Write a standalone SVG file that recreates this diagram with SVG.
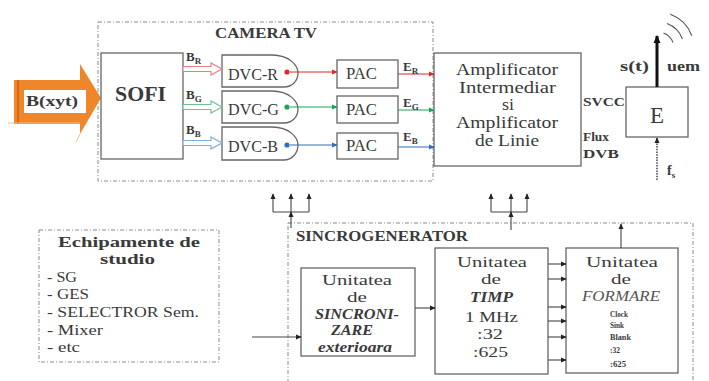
<svg xmlns="http://www.w3.org/2000/svg" width="709" height="381" viewBox="0 0 709 381">
<style>
text{font-family:"Liberation Serif","DejaVu Serif",serif;fill:#3a3a3a}
.b{font-weight:bold}
.bi{font-weight:bold;font-style:italic}
.box{fill:#fff;stroke:#666;stroke-width:1.3}
.dash{fill:none;stroke:#8a8a8a;stroke-width:1;stroke-dasharray:4 2 1 2}
.ln{fill:none;stroke:#444;stroke-width:1.1}
</style>
<defs>
<marker id="ak" viewBox="0 0 8 8" refX="7" refY="4" markerWidth="6" markerHeight="6" orient="auto" markerUnits="userSpaceOnUse"><path d="M0,0.5 L8,4 L0,7.5 Z" fill="#222"/></marker>
<marker id="ar" viewBox="0 0 8 8" refX="7" refY="4" markerWidth="6" markerHeight="6" orient="auto" markerUnits="userSpaceOnUse"><path d="M0,0.5 L8,4 L0,7.5 Z" fill="#e02828"/></marker>
<marker id="ag" viewBox="0 0 8 8" refX="7" refY="4" markerWidth="6" markerHeight="6" orient="auto" markerUnits="userSpaceOnUse"><path d="M0,0.5 L8,4 L0,7.5 Z" fill="#1fa35a"/></marker>
<marker id="ab" viewBox="0 0 8 8" refX="7" refY="4" markerWidth="6" markerHeight="6" orient="auto" markerUnits="userSpaceOnUse"><path d="M0,0.5 L8,4 L0,7.5 Z" fill="#2a6fc0"/></marker>
<marker id="abig" viewBox="0 0 8 8" refX="7" refY="4" markerWidth="8" markerHeight="8" orient="auto" markerUnits="userSpaceOnUse"><path d="M0,0.5 L8,4 L0,7.5 Z" fill="#111"/></marker>
</defs>

<g id="camera-tv">
<rect class="dash" x="98" y="22" width="335" height="159"/>
<text class="b" x="215" y="38" font-size="15" textLength="102" lengthAdjust="spacingAndGlyphs">CAMERA TV</text>
</g>
<g id="sincrogenerator">
<rect class="dash" x="288" y="223" width="405" height="170"/>
<text class="b" x="296" y="241" font-size="15" textLength="172" lengthAdjust="spacingAndGlyphs">SINCROGENERATOR</text>
</g>

<g id="input-bxyt">
<polygon points="14,80 80,80 80,64 101,98 80,134 80,124 14,124" fill="#f0862a"/>
<rect x="24" y="90" width="62" height="23" fill="#fff"/>
<line x1="18" y1="80" x2="18" y2="124" stroke="#d46a18" stroke-width="2"/>
<line x1="8" y1="123" x2="80" y2="123" stroke="#f7b98a" stroke-width="1"/>
<line x1="80" y1="134" x2="76" y2="142" stroke="#f7b98a" stroke-width="1"/>
<text class="b" x="26" y="106" font-size="14" textLength="52" lengthAdjust="spacingAndGlyphs">B(xyt)</text>
</g>

<g id="sofi">
<rect class="box" x="101" y="53" width="82" height="106"/>
<text class="b" x="115" y="101" font-size="22" textLength="51" lengthAdjust="spacingAndGlyphs">SOFI</text>
</g>

<g id="dvc-r">
<path class="box" d="M222,55 H272 C290,55 298,66 298,73 C298,81 292,87 284,87 H222 Z"/>
<text x="228" y="80" font-size="16" textLength="50" lengthAdjust="spacingAndGlyphs">DVC-R</text>
<circle cx="287" cy="72" r="2.6" fill="#e02828"/>
</g>
<g id="dvc-g">
<path class="box" d="M222,91 H272 C290,91 298,102 298,109 C298,117 292,123 284,123 H222 Z"/>
<text x="228" y="115" font-size="16" textLength="51" lengthAdjust="spacingAndGlyphs">DVC-G</text>
<circle cx="287" cy="107" r="2.6" fill="#1fa35a"/>
</g>
<g id="dvc-b">
<path class="box" d="M222,127 H272 C290,127 298,138 298,145 C298,153 292,160 284,160 H222 Z"/>
<text x="228" y="152" font-size="16" textLength="50" lengthAdjust="spacingAndGlyphs">DVC-B</text>
<circle cx="287" cy="145" r="2.6" fill="#2a6fc0"/>
</g>

<g id="pac-r"><rect class="box" x="337" y="60" width="61" height="28"/><text x="346" y="79" font-size="16" textLength="31" lengthAdjust="spacingAndGlyphs">PAC</text></g>
<g id="pac-g"><rect class="box" x="337" y="96" width="61" height="27"/><text x="346" y="115" font-size="16" textLength="31" lengthAdjust="spacingAndGlyphs">PAC</text></g>
<g id="pac-b"><rect class="box" x="337" y="133" width="61" height="26"/><text x="346" y="151" font-size="16" textLength="31" lengthAdjust="spacingAndGlyphs">PAC</text></g>

<g id="amplificator">
<rect class="box" x="434" y="53" width="147" height="113"/>
<text x="456" y="75" font-size="16" textLength="102" lengthAdjust="spacingAndGlyphs">Amplificator</text>
<text x="459" y="93" font-size="16" textLength="97" lengthAdjust="spacingAndGlyphs">Intermediar</text>
<text x="502" y="110" font-size="16" textLength="12" lengthAdjust="spacingAndGlyphs">si</text>
<text x="456" y="128" font-size="16" textLength="102" lengthAdjust="spacingAndGlyphs">Amplificator</text>
<text x="475" y="146" font-size="16" textLength="64" lengthAdjust="spacingAndGlyphs">de Linie</text>
</g>

<g id="emitator">
<rect class="box" x="626" y="87" width="62" height="50"/>
<text x="657" y="123" font-size="23" text-anchor="middle">E</text>
</g>

<g id="echipamente">
<rect class="dash" x="39" y="230" width="180" height="132"/>
<text class="b" x="58" y="247" font-size="15" textLength="142" lengthAdjust="spacingAndGlyphs">Echipamente de</text>
<text class="b" x="100" y="264" font-size="15" textLength="55" lengthAdjust="spacingAndGlyphs">studio</text>
<text x="47" y="282" font-size="15" textLength="30" lengthAdjust="spacingAndGlyphs">- SG</text>
<text x="47" y="299" font-size="15" textLength="42" lengthAdjust="spacingAndGlyphs">- GES</text>
<text x="47" y="317" font-size="15" textLength="152" lengthAdjust="spacingAndGlyphs">- SELECTROR Sem.</text>
<text x="47" y="335" font-size="15" textLength="56" lengthAdjust="spacingAndGlyphs">- Mixer</text>
<text x="47" y="352" font-size="15" textLength="33" lengthAdjust="spacingAndGlyphs">- etc</text>
</g>

<g id="sincronizare">
<rect class="box" x="301" y="268" width="114" height="88"/>
<text x="322" y="285" font-size="15" textLength="70" lengthAdjust="spacingAndGlyphs">Unitatea</text>
<text x="347" y="302" font-size="15" textLength="20" lengthAdjust="spacingAndGlyphs">de</text>
<text class="bi" x="315" y="319" font-size="15" textLength="84" lengthAdjust="spacingAndGlyphs">SINCRONI-</text>
<text class="bi" x="331" y="335" font-size="15" textLength="42" lengthAdjust="spacingAndGlyphs">ZARE</text>
<text class="bi" x="318" y="352" font-size="14" textLength="74" lengthAdjust="spacingAndGlyphs">exterioara</text>
</g>

<g id="timp">
<rect class="box" x="435" y="248" width="113" height="126"/>
<text x="457" y="267" font-size="15" textLength="70" lengthAdjust="spacingAndGlyphs">Unitatea</text>
<text x="481" y="284" font-size="15" textLength="20" lengthAdjust="spacingAndGlyphs">de</text>
<text class="bi" x="470" y="302" font-size="15" textLength="43" lengthAdjust="spacingAndGlyphs">TIMP</text>
<text x="465" y="322" font-size="15" textLength="53" lengthAdjust="spacingAndGlyphs">1 MHz</text>
<text x="477" y="339" font-size="15" textLength="26" lengthAdjust="spacingAndGlyphs">:32</text>
<text x="473" y="357" font-size="15" textLength="35" lengthAdjust="spacingAndGlyphs">:625</text>
</g>

<g id="formare">
<rect class="box" x="566" y="248" width="112" height="125"/>
<text x="586" y="267" font-size="15" textLength="72" lengthAdjust="spacingAndGlyphs">Unitatea</text>
<text x="611" y="284" font-size="15" textLength="20" lengthAdjust="spacingAndGlyphs">de</text>
<text x="582" y="301" font-size="15" font-style="italic" textLength="78" lengthAdjust="spacingAndGlyphs" style="fill:#555">FORMARE</text>
<text class="b" x="610" y="317" font-size="9" textLength="18" lengthAdjust="spacingAndGlyphs">Clock</text>
<text class="b" x="610" y="328" font-size="9" textLength="14" lengthAdjust="spacingAndGlyphs">Sink</text>
<text class="b" x="610" y="340" font-size="9" textLength="21" lengthAdjust="spacingAndGlyphs">Blank</text>
<text class="b" x="610" y="353" font-size="9" textLength="10" lengthAdjust="spacingAndGlyphs">:32</text>
<text class="b" x="610" y="367" font-size="9" textLength="16" lengthAdjust="spacingAndGlyphs">:625</text>
</g>

<g id="connectors">
<polygon points="183,66.5 211,66.5 211,63 222,69 211,75 211,71.5 183,71.5" fill="#fff" stroke="#ee7b7b" stroke-width="1.2"/>
<polygon points="183,104.5 211,104.5 211,101 222,107 211,113 211,109.5 183,109.5" fill="#fff" stroke="#6cc391" stroke-width="1.2"/>
<polygon points="183,140.5 211,140.5 211,137 222,143 211,149 211,145.5 183,145.5" fill="#fff" stroke="#7aaee0" stroke-width="1.2"/>
<line x1="290" y1="72" x2="337" y2="72" stroke="#e02828" stroke-width="1" marker-end="url(#ar)"/>
<line x1="290" y1="107" x2="337" y2="107" stroke="#1fa35a" stroke-width="1" marker-end="url(#ag)"/>
<line x1="290" y1="145" x2="337" y2="145" stroke="#2a6fc0" stroke-width="1" marker-end="url(#ab)"/>
<line x1="398" y1="74" x2="434" y2="74" stroke="#e02828" stroke-width="1" marker-end="url(#ar)"/>
<line x1="398" y1="110" x2="434" y2="110" stroke="#1fa35a" stroke-width="1" marker-end="url(#ag)"/>
<line x1="398" y1="147" x2="434" y2="147" stroke="#2a6fc0" stroke-width="1" marker-end="url(#ab)"/>
<line x1="657" y1="87" x2="657" y2="36" stroke="#111" stroke-width="3" marker-end="url(#abig)"/>
<line x1="657" y1="180" x2="657" y2="138" stroke="#444" stroke-width="1.5" stroke-dasharray="1.5 1.2" marker-end="url(#ak)"/>
<path d="M663.5,33 A16,16 0 0 1 673,42.5 M667,23.6 A26,26 0 0 1 682.4,39 M670.3,14.2 A36,36 0 0 1 691.8,35.7" fill="none" stroke="#555" stroke-width="1.1"/>
<path class="ln" d="M273,212 H309"/>
<line class="ln" x1="273" y1="212" x2="273" y2="194" marker-end="url(#ak)"/>
<line class="ln" x1="291" y1="212" x2="291" y2="194" marker-end="url(#ak)"/>
<line class="ln" x1="309" y1="212" x2="309" y2="194" marker-end="url(#ak)"/>
<line class="ln" x1="291" y1="228" x2="291" y2="212" marker-end="url(#ak)"/>
<path class="ln" d="M491,212 H527"/>
<line class="ln" x1="491" y1="212" x2="491" y2="194" marker-end="url(#ak)"/>
<line class="ln" x1="511" y1="212" x2="511" y2="194" marker-end="url(#ak)"/>
<line class="ln" x1="527" y1="212" x2="527" y2="194" marker-end="url(#ak)"/>
<line class="ln" x1="511" y1="230" x2="511" y2="212" marker-end="url(#ak)"/>
<line class="ln" x1="252" y1="337" x2="301" y2="337" marker-end="url(#ak)"/>
<line class="ln" x1="415" y1="308" x2="435" y2="308" marker-end="url(#ak)"/>
<line class="ln" x1="548" y1="264" x2="566" y2="264" marker-end="url(#ak)"/>
<line class="ln" x1="548" y1="279" x2="566" y2="279" marker-end="url(#ak)"/>
<line class="ln" x1="548" y1="307" x2="566" y2="307" marker-end="url(#ak)"/>
<line class="ln" x1="548" y1="321" x2="566" y2="321" marker-end="url(#ak)"/>
<line class="ln" x1="548" y1="337" x2="566" y2="337" marker-end="url(#ak)"/>
<line class="ln" x1="548" y1="360" x2="566" y2="360" marker-end="url(#ak)"/>
<line class="ln" x1="621" y1="248" x2="621" y2="224" marker-end="url(#ak)"/>
</g>

<g id="labels">
<text class="b" x="186" y="61" font-size="13">B<tspan font-size="9" dy="3">R</tspan></text>
<text class="b" x="186" y="99" font-size="13">B<tspan font-size="9" dy="3">G</tspan></text>
<text class="b" x="186" y="134" font-size="13">B<tspan font-size="9" dy="3">B</tspan></text>
<text class="b" x="403" y="71" font-size="13">E<tspan font-size="9" dy="3">R</tspan></text>
<text class="b" x="403" y="107" font-size="13">E<tspan font-size="9" dy="3">G</tspan></text>
<text class="b" x="403" y="141" font-size="13">E<tspan font-size="9" dy="3">B</tspan></text>
<text class="b" x="583" y="106" font-size="13" textLength="42" lengthAdjust="spacingAndGlyphs">SVCC</text>
<text class="b" x="583" y="141" font-size="13" textLength="26" lengthAdjust="spacingAndGlyphs">Flux</text>
<text class="b" x="583" y="158" font-size="13" textLength="36" lengthAdjust="spacingAndGlyphs">DVB</text>
<text class="b" x="620" y="71" font-size="14" textLength="29" lengthAdjust="spacingAndGlyphs">s(t)</text>
<text class="b" x="667" y="71" font-size="14" textLength="33" lengthAdjust="spacingAndGlyphs">uem</text>
<text class="b" x="667" y="175" font-size="14">f<tspan font-size="9" dy="3">s</tspan></text>
</g>
</svg>
